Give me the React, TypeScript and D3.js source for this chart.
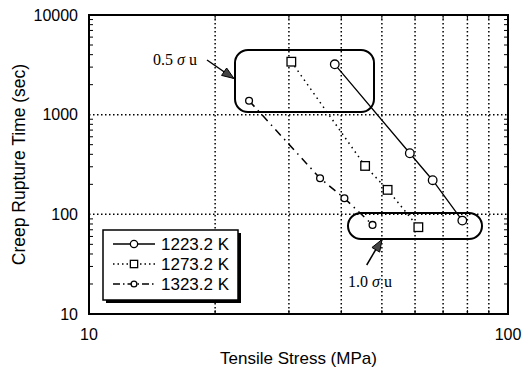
import React from "react";
import * as d3 from "d3";

const series1223 = [
  { stress: 38.6, time: 3200 },
  { stress: 58.3, time: 410 },
  { stress: 66.1, time: 220 },
  { stress: 77.8, time: 86.5 },
];
const series1273 = [
  { stress: 30.4, time: 3400 },
  { stress: 45.6, time: 306 },
  { stress: 51.6, time: 176 },
  { stress: 61.1, time: 74.3 },
];
const series1323 = [
  { stress: 24.1, time: 1380 },
  { stress: 35.6, time: 230 },
  { stress: 40.7, time: 145 },
  { stress: 47.5, time: 78.3 },
];
const legendLabels = ["1223.2 K", "1273.2 K", "1323.2 K"];
const xTickLabels = [10, 100];
const yTickLabels = [10, 100, 1000, 10000];
const xGrid = [20, 30, 40, 50, 60, 70, 80, 90];
const yGrid = [100, 1000];

const W = 524;
const H = 374;
const L = 89, R = 508, T = 15, B = 314;
const sans = "'Liberation Sans', Arial, Helvetica, sans-serif";
const serif = "'Liberation Serif', 'Times New Roman', serif";

export default function App() {
  const x = d3.scaleLog().domain([10, 100]).range([L, R]);
  const y = d3.scaleLog().domain([10, 10000]).range([B, T]);
  const line = d3
    .line<{ stress: number; time: number }>()
    .x((d) => x(d.stress))
    .y((d) => y(d.time));

  const minorY: number[] = [];
  for (const dec of [10, 100, 1000]) for (let k = 2; k <= 9; k++) minorY.push(dec * k);
  const minorX: number[] = [];
  for (let k = 2; k <= 9; k++) minorX.push(10 * k);

  const arrowHead = (x1: number, y1: number, x2: number, y2: number) => {
    const a = Math.atan2(y2 - y1, x2 - x1);
    const len = 12, wid = 4.5;
    const bx = x2 - len * Math.cos(a), by = y2 - len * Math.sin(a);
    const px = -Math.sin(a) * wid, py = Math.cos(a) * wid;
    return `M${x2},${y2}L${bx + px},${by + py}L${bx - px},${by - py}Z`;
  };

  const legendStyles = [
    { dash: undefined, marker: "circle" },
    { dash: "1.5,3", marker: "square" },
    { dash: "7,3,1.5,3", marker: "small" },
  ];

  const drawMarker = (type: string, cx: number, cy: number, key: string | number, scale = 1) => {
    if (type === "circle")
      return <circle key={key} cx={cx} cy={cy} r={4.3 * scale} fill="white" stroke="black" strokeWidth={1.3} />;
    if (type === "square")
      return (
        <rect key={key} x={cx - 4.3 * scale} y={cy - 4.3 * scale} width={8.6 * scale} height={8.6 * scale}
          fill="white" stroke="black" strokeWidth={1.3} />
      );
    return <circle key={key} cx={cx} cy={cy} r={3.4 * scale} fill="white" stroke="black" strokeWidth={1.3} />;
  };

  const lg = { x: 103, y: 230, w: 135, h: 70 };

  return (
    <svg width={W} height={H} style={{ position: "absolute", left: 0, top: 0, background: "white" }}>
      <rect x={0} y={0} width={W} height={H} fill="white" />
      {/* grid */}
      {xGrid.map((v) => (
        <line key={"gx" + v} x1={x(v)} x2={x(v)} y1={T} y2={B} stroke="black" strokeWidth={1.5} strokeDasharray="1.5,2.5" />
      ))}
      {yGrid.map((v) => (
        <line key={"gy" + v} x1={L} x2={R} y1={y(v)} y2={y(v)} stroke="black" strokeWidth={1.5} strokeDasharray="1.5,2.5" />
      ))}
      {/* minor ticks */}
      {minorY.map((v) => (
        <g key={"my" + v}>
          <line x1={L} x2={L + 4} y1={y(v)} y2={y(v)} stroke="black" strokeWidth={1} />
          <line x1={R} x2={R - 4} y1={y(v)} y2={y(v)} stroke="black" strokeWidth={1} />
        </g>
      ))}
      {minorX.map((v) => (
        <g key={"mx" + v}>
          <line x1={x(v)} x2={x(v)} y1={B} y2={B - 4} stroke="black" strokeWidth={1} />
          <line x1={x(v)} x2={x(v)} y1={T} y2={T + 4} stroke="black" strokeWidth={1} />
        </g>
      ))}
      {/* frame */}
      <rect x={L} y={T} width={R - L} height={B - T} fill="none" stroke="black" strokeWidth={2} />
      {/* tick labels */}
      {yTickLabels.map((v) => (
        <text key={"yl" + v} x={78} y={y(v)} dy="0.35em" textAnchor="end" fontFamily={sans} fontSize={16}>
          {v}
        </text>
      ))}
      {xTickLabels.map((v) => (
        <text key={"xl" + v} x={x(v)} y={340} textAnchor="middle" fontFamily={sans} fontSize={16}>
          {v}
        </text>
      ))}
      {/* axis titles */}
      <text x={(L + R) / 2} y={364} textAnchor="middle" fontFamily={sans} fontSize={17}>
        Tensile Stress (MPa)
      </text>
      <text transform={`translate(25,${(T + B) / 2}) rotate(-90)`} textAnchor="middle" fontFamily={sans} fontSize={17.5}>
        Creep Rupture Time (sec)
      </text>
      {/* annotation boxes */}
      <rect x={235} y={50} width={139} height={62} rx={13} fill="none" stroke="black" strokeWidth={2} />
      <rect x={348} y={213} width={134} height={26} rx={13} fill="none" stroke="black" strokeWidth={2} />
      {/* series lines */}
      <path d={line(series1223) || ""} fill="none" stroke="black" strokeWidth={1.3} />
      <path d={line(series1273) || ""} fill="none" stroke="black" strokeWidth={1.5} strokeDasharray="1.5,4" />
      <path d={line(series1323) || ""} fill="none" stroke="black" strokeWidth={1.5} strokeDasharray="8,5,1.5,5" />
      {series1223.map((d, i) => drawMarker("circle", x(d.stress), y(d.time), "a" + i))}
      {series1273.map((d, i) => drawMarker("square", x(d.stress), y(d.time), "b" + i))}
      {series1323.map((d, i) => drawMarker("small", x(d.stress), y(d.time), "c" + i))}
      {/* annotations */}
      <text x={153} y={65} fontFamily={serif} fontSize={16}>
        0.5 <tspan fontStyle="italic">σ</tspan> u
      </text>
      <line x1={207} y1={60} x2={233} y2={78} stroke="black" strokeWidth={1.5} />
      <path d={arrowHead(207, 60, 234, 78.5)} fill="#444" stroke="black" strokeWidth={1} />
      <text x={348} y={287} fontFamily={serif} fontSize={16}>
        1.0 <tspan fontStyle="italic">σ</tspan> u
      </text>
      <line x1={366.7} y1={265} x2={381.7} y2={239.5} stroke="black" strokeWidth={1.5} />
      <path d={arrowHead(366.7, 265, 382, 239.5)} fill="#444" stroke="black" strokeWidth={1} />
      {/* legend */}
      <rect x={lg.x + 3} y={lg.y + 3} width={lg.w} height={lg.h} fill="black" />
      <rect x={lg.x} y={lg.y} width={lg.w} height={lg.h} fill="white" stroke="black" strokeWidth={1.5} />
      {legendLabels.map((lab, i) => {
        const cy = 244 + i * 20;
        const st = legendStyles[i];
        return (
          <g key={"lg" + i}>
            <line x1={113} x2={155} y1={cy} y2={cy} stroke="black" strokeWidth={1.3} strokeDasharray={st.dash} />
            {drawMarker(st.marker, 134, cy, "lm" + i, 0.85)}
            <text x={161} y={cy} dy="0.36em" fontFamily={sans} fontSize={17}>
              {lab}
            </text>
          </g>
        );
      })}
    </svg>
  );
}
